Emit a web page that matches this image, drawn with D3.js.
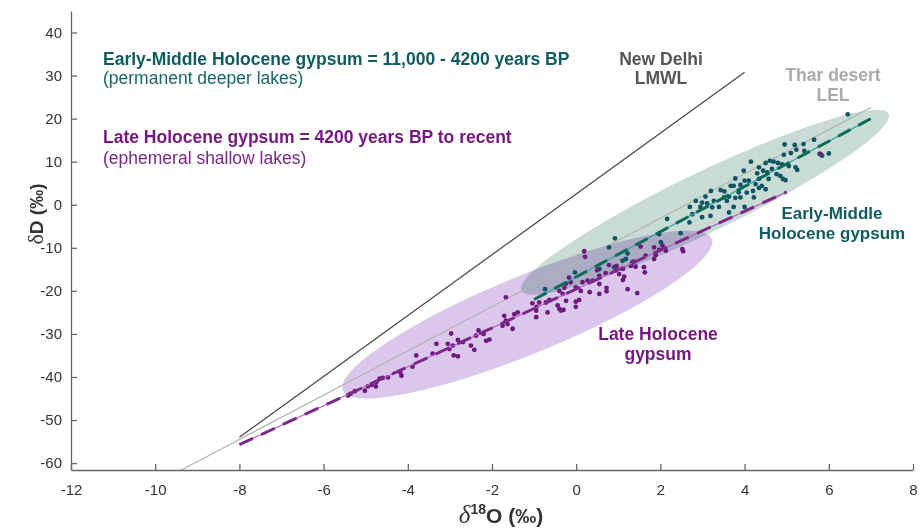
<!DOCTYPE html>
<html>
<head>
<meta charset="utf-8">
<script src="https://cdn.jsdelivr.net/npm/d3@7"></script>
<style>
  body { margin: 0; background: #fff; }
  text { font-family: "Liberation Sans", Arial, Helvetica, sans-serif; }
</style>
</head>
<body>
<div id="chart"></div>
<script>
// tick values
var xTicks = [-12, -10, -8, -6, -4, -2, 0, 2, 4, 6, 8];
var yTicks = [-60, -50, -40, -30, -20, -10, 0, 10, 20, 30, 40];

// Early-Middle Holocene gypsum samples [d18O, dD]
var earlyPoints = [
  [6.45, 21.0], [4.95, 14.0], [5.19, 13.9], [5.40, 14.1], [5.65, 15.1], [5.10, 12.0],
  [5.23, 12.8], [5.42, 12.5], [4.93, 11.6], [5.78, 11.8], [5.84, 11.4], [6.00, 11.9],
  [4.50, 9.7], [4.60, 10.2], [4.69, 10.0], [4.79, 9.7], [4.89, 9.4], [4.15, 10.0],
  [5.21, 8.7], [5.25, 8.1], [4.34, 8.7], [4.44, 7.9], [4.30, 7.3], [4.54, 7.5],
  [4.65, 8.3], [4.76, 7.1], [4.85, 6.7], [4.91, 6.0], [4.97, 5.7], [3.78, 6.1],
  [4.00, 5.6], [3.90, 4.6], [3.67, 4.4], [4.10, 5.6], [4.26, 4.8], [4.34, 3.9],
  [4.41, 4.4], [4.20, 3.2], [4.50, 3.6], [3.43, 3.4], [3.52, 3.1], [3.86, 2.9],
  [3.51, 1.7], [3.63, 1.9], [3.78, 1.6], [3.90, 1.7], [4.22, 1.7], [3.07, 1.9],
  [2.84, 0.9], [2.99, 0.5], [3.11, 0.3], [3.27, 0.9], [2.95, -0.5], [3.23, -0.6],
  [3.39, -0.5], [3.74, -0.5], [4.00, -0.5], [2.70, -0.5], [3.63, -1.8], [2.76, -2.2],
  [2.99, -2.9], [3.19, -2.6], [2.16, -3.3], [2.69, -4.1], [2.48, -6.6], [2.01, -8.7],
  [0.92, -7.8], [0.78, -9.9], [1.22, -11.3], [1.18, -12.6], [1.10, -13.0], [1.33, -13.4],
  [-0.03, -15.7], [0.55, -14.9], [0.90, -14.5], [-0.74, -19.6], [1.97, -6.8],
  [3.98, 7.9], [3.74, 4.4], [4.57, 6.0], [5.05, 9.0], [4.34, 6.0], [3.58, 0.9],
  [4.05, 2.8], [3.20, 3.2]
];

// Late Holocene gypsum samples [d18O, dD]
var latePoints = [
  [5.80, 11.8], [0.19, -10.8], [0.21, -12.1], [1.53, -9.7], [1.85, -9.9], [2.05, -9.5],
  [1.97, -10.5], [2.13, -10.7], [2.52, -10.3], [2.54, -10.8], [1.65, -11.8], [1.89, -11.7],
  [1.85, -12.6], [1.37, -13.2], [1.30, -14.2], [1.41, -14.4], [1.61, -14.5], [1.63, -15.7],
  [0.78, -14.0], [0.96, -14.2], [0.94, -15.2], [1.11, -14.9], [1.02, -16.1], [1.14, -16.7],
  [1.11, -17.5], [0.50, -15.2], [0.55, -16.5], [0.70, -15.9], [0.39, -17.6], [0.55, -18.4],
  [0.27, -17.6], [0.15, -18.0], [-0.17, -16.9], [-0.24, -18.3], [-0.13, -18.0], [-0.28, -19.3],
  [-0.40, -20.0], [-0.32, -20.7], [-0.01, -19.2], [0.11, -20.0], [0.32, -20.3], [0.55, -20.7],
  [0.72, -19.3], [0.72, -20.1], [1.22, -19.6], [1.45, -20.5], [0.07, -22.1], [-0.01, -22.5],
  [-0.24, -22.3], [-0.64, -22.1], [-0.72, -22.7], [-0.88, -22.7], [-0.94, -23.7], [-0.44, -23.4],
  [-0.36, -24.6], [-0.30, -24.4], [-0.40, -24.2], [-0.01, -23.7], [-0.68, -25.0], [-0.95, -26.1],
  [-1.67, -21.5], [-1.71, -25.8], [-1.39, -25.0], [-1.47, -25.4], [-1.51, -28.8], [-1.04, -22.9],
  [-0.95, -24.6], [-1.67, -26.9], [-1.75, -28.1], [-1.63, -27.7], [-2.32, -29.2], [-2.14, -31.6],
  [-2.06, -31.3], [-2.38, -30.4], [-2.20, -30.0], [-2.97, -29.9], [-2.81, -31.4], [-2.69, -31.9],
  [-3.05, -32.3], [-3.01, -33.5], [-2.93, -32.7], [-2.50, -32.7], [-2.42, -33.7], [-3.32, -32.3],
  [-3.41, -34.6], [-2.91, -35.0], [-2.81, -35.2], [-3.80, -35.0], [-3.89, -37.6], [-4.47, -40.1],
  [-4.59, -40.2], [-4.67, -40.4], [-4.75, -41.2], [-4.76, -42.2], [-4.86, -41.8], [-4.95, -42.2],
  [-4.18, -38.9], [-4.15, -39.7], [-5.02, -43.2], [-5.26, -43.3], [-5.36, -43.9], [-5.42, -44.3]
];

// reference lines and regressions (end points)
var lmwl = [[-8, -54], [4, 30.8]];
var lel = [[-9.4, -61.7], [7, 22.6]];
var earlyFit = [[-1, -22], [7, 20]];
var lateFit = [[-8, -55.7], [5, 3.0]];

// envelope ellipses: [centre, end of long axis]
var earlyArea = [[3.06, 0.58], [7.42, 21.1]];
var lateArea = [[-1.16, -25.5], [3.22, -7.9]];

function init() {
  var w = 920, h = 530;

  var x = d3.scaleLinear().domain([-12, 8]).range([71, 913]);
  var y = d3.scaleLinear().domain([-61.6, 45]).range([470, 11]);

  var svg = d3.select("#chart").append("svg")
    .attr("width", w)
    .attr("height", h);

  // ellipses
  function ellipse(area, ratio, fill) {
    var cx = x(area[0][0]), cy = y(area[0][1]);
    var tx = x(area[1][0]), ty = y(area[1][1]);
    var rx = Math.hypot(tx - cx, ty - cy);
    var ang = Math.atan2(ty - cy, tx - cx) * 180 / Math.PI;
    svg.append("ellipse")
      .attr("transform", "translate(" + cx + "," + cy + ") rotate(" + ang + ")")
      .attr("rx", rx)
      .attr("ry", rx * ratio)
      .attr("fill", fill)
      .style("mix-blend-mode", "multiply");
  }
  ellipse(earlyArea, 0.147, "#c8dbd4");
  ellipse(lateArea, 0.195, "#dcc7ec");

  var line = d3.line()
    .x(function(d) { return x(d[0]); })
    .y(function(d) { return y(d[1]); });

  svg.append("path").datum(lmwl).attr("d", line)
    .attr("stroke", "#444").attr("stroke-width", 1.2).attr("fill", "none");
  svg.append("path").datum(lel).attr("d", line)
    .attr("stroke", "#b3b3b3").attr("stroke-width", 1.2).attr("fill", "none");

  // points
  svg.append("g").selectAll("circle")
    .data(earlyPoints)
    .enter().append("circle")
    .attr("cx", function(d) { return x(d[0]); })
    .attr("cy", function(d) { return y(d[1]); })
    .attr("r", 2.4)
    .attr("fill", "#0f5662");

  svg.append("g").selectAll("circle")
    .data(latePoints)
    .enter().append("circle")
    .attr("cx", function(d) { return x(d[0]); })
    .attr("cy", function(d) { return y(d[1]); })
    .attr("r", 2.4)
    .attr("fill", "#6d1a7d");

  // regression lines: thin solid under thick dashes
  svg.append("path").datum(lateFit).attr("d", line)
    .attr("stroke", "#b75ec0").attr("stroke-width", 1.2).attr("fill", "none");
  svg.append("path").datum(lateFit).attr("d", line)
    .attr("stroke", "#7b2a8c").attr("stroke-width", 3)
    .attr("stroke-dasharray", "15,9").attr("fill", "none");
  svg.append("path").datum(earlyFit).attr("d", line)
    .attr("stroke", "#3a9fa3").attr("stroke-width", 1.2).attr("fill", "none");
  svg.append("path").datum(earlyFit).attr("d", line)
    .attr("stroke", "#0d6a57").attr("stroke-width", 3)
    .attr("stroke-dasharray", "14,9").attr("fill", "none");

  // axes
  var xAxis = d3.axisBottom(x)
    .tickValues(xTicks)
    .tickFormat(function(d) { return String(d); })
    .tickSizeInner(-6).tickSizeOuter(0).tickPadding(14);
  var yAxis = d3.axisLeft(y)
    .tickValues(yTicks)
    .tickFormat(function(d) { return String(d); })
    .tickSizeInner(-6).tickSizeOuter(0).tickPadding(9);

  var gx = svg.append("g")
    .attr("transform", "translate(0," + 470 + ")")
    .call(xAxis);
  var gy = svg.append("g")
    .attr("transform", "translate(" + 71 + ",0)")
    .call(yAxis);

  [gx, gy].forEach(function(g) {
    g.selectAll("path, line").attr("stroke", "#666").attr("stroke-width", 1.3);
    g.selectAll("text").attr("fill", "#333")
      .style("font-size", "15px")
      .style("font-family", "'Liberation Sans', Arial, sans-serif");
  });

  // axis titles
  var xl = svg.append("text")
    .attr("x", 501).attr("y", 523)
    .attr("text-anchor", "middle")
    .attr("fill", "#333");
  xl.append("tspan").text("δ")
    .style("font-family", "'Liberation Serif', serif")
    .style("font-style", "italic").style("font-size", "25px");
  xl.append("tspan").text("18").attr("dy", -9)
    .style("font-weight", "bold").style("font-size", "14px");
  xl.append("tspan").text("O (‰)").attr("dy", 9)
    .style("font-weight", "bold").style("font-size", "21px");

  var yl = svg.append("text")
    .attr("transform", "translate(43,214) rotate(-90)")
    .attr("text-anchor", "middle")
    .attr("fill", "#333");
  yl.append("tspan").text("δ")
    .style("font-family", "'Liberation Serif', serif")
    .style("font-size", "22px");
  yl.append("tspan").text("D (‰)")
    .style("font-weight", "bold").style("font-size", "19px");

  // annotations
  function label(txt, px, py, color, weight, anchor, size) {
    svg.append("text")
      .attr("x", px).attr("y", py)
      .attr("text-anchor", anchor || "start")
      .attr("fill", color)
      .style("font-size", (size || 17.5) + "px")
      .style("font-weight", weight)
      .text(txt);
  }
  label("Early-Middle Holocene gypsum = 11,000 - 4200 years BP", 103, 65, "#0f5b5f", "bold");
  label("(permanent deeper lakes)", 103, 84, "#17676a", "normal");
  label("Late Holocene gypsum = 4200 years BP to recent", 103, 143, "#74187f", "bold");
  label("(ephemeral shallow lakes)", 103, 164, "#7a2586", "normal");

  label("New Delhi", 661, 65, "#555", "bold", "middle");
  label("LMWL", 661, 84, "#555", "bold", "middle");
  label("Thar desert", 833, 81, "#aaaaaa", "bold", "middle");
  label("LEL", 833, 101, "#aaaaaa", "bold", "middle");

  label("Early-Middle", 832, 219, "#0f5b5f", "bold", "middle", 17);
  label("Holocene gypsum", 832, 239, "#0f5b5f", "bold", "middle", 17);
  label("Late Holocene", 658, 340, "#74187f", "bold", "middle");
  label("gypsum", 658, 360, "#74187f", "bold", "middle");
}

window.onload = init;
</script>
</body>
</html>
